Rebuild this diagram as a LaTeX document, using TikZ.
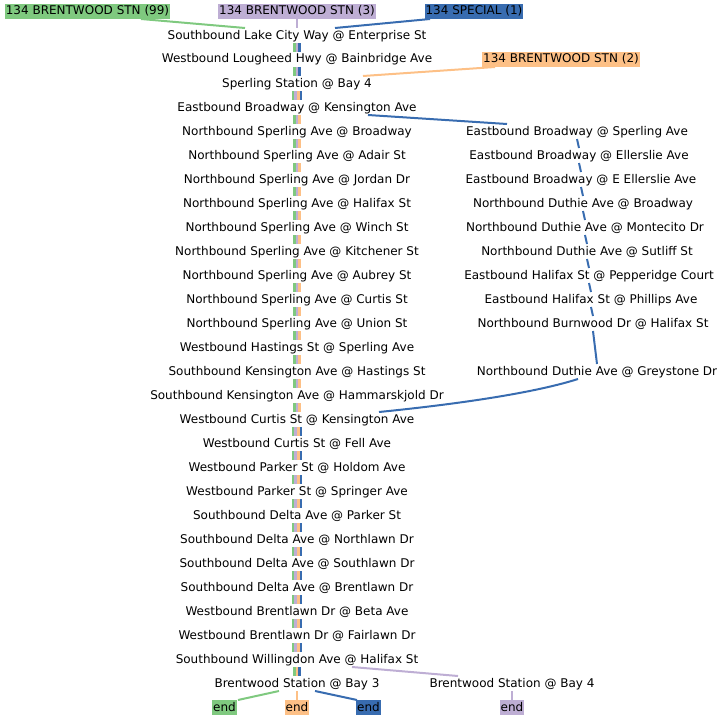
\documentclass[tikz,border=0pt]{standalone}
\usepackage{fontspec}
\setmainfont{DejaVu Sans}
\usetikzlibrary{positioning}

\definecolor{rteGreen}{HTML}{7FC97F}
\definecolor{rtePurple}{HTML}{BEAED4}
\definecolor{rteOrange}{HTML}{FDC086}
\definecolor{rteBlue}{HTML}{386CB0}

\begin{document}
\begin{tikzpicture}[
    x=1pt, y=-1pt,
    node distance=9pt,
    every node/.style={font=\fontsize{12}{14}\selectfont},
    stop/.style={inner xsep=1pt, inner ysep=1.5pt, outer sep=0pt, text height=9.5pt, text depth=2.5pt},
    tag/.style={stop, fill=#1},
    route/.style={line width=2pt},
    bar/.style={line width=2.7pt}
]
\useasboundingbox (0,0) rectangle (724,720);

% Route labels
\node[tag=rteGreen] (Hdr99) at (87.5,11.5) {134 BRENTWOOD STN (99)};
\node[tag=rtePurple] (Hdr3) at (297,11.5) {134 BRENTWOOD STN (3)};
\node[tag=rteBlue] (HdrSpecial) at (474,11.5) {134 SPECIAL (1)};
\node[tag=rteOrange] (Hdr2) at (561,59.5) {134 BRENTWOOD STN (2)};

% Main column of stops
\node[stop, below=of Hdr3] (LakeCity) {Southbound Lake City Way @ Enterprise St};
\node[stop, below=of LakeCity] (Lougheed) {Westbound Lougheed Hwy @ Bainbridge Ave};
\node[stop, below=of Lougheed] (SperlingStn) {Sperling Station @ Bay 4};
\node[stop, below=of SperlingStn] (BwyKensington) {Eastbound Broadway @ Kensington Ave};
\node[stop, below=of BwyKensington] (SperBroadway) {Northbound Sperling Ave @ Broadway};
\node[stop, below=of SperBroadway] (SperAdair) {Northbound Sperling Ave @ Adair St};
\node[stop, below=of SperAdair] (SperJordan) {Northbound Sperling Ave @ Jordan Dr};
\node[stop, below=of SperJordan] (SperHalifax) {Northbound Sperling Ave @ Halifax St};
\node[stop, below=of SperHalifax] (SperWinch) {Northbound Sperling Ave @ Winch St};
\node[stop, below=of SperWinch] (SperKitchener) {Northbound Sperling Ave @ Kitchener St};
\node[stop, below=of SperKitchener] (SperAubrey) {Northbound Sperling Ave @ Aubrey St};
\node[stop, below=of SperAubrey] (SperCurtis) {Northbound Sperling Ave @ Curtis St};
\node[stop, below=of SperCurtis] (SperUnion) {Northbound Sperling Ave @ Union St};
\node[stop, below=of SperUnion] (HastSperling) {Westbound Hastings St @ Sperling Ave};
\node[stop, below=of HastSperling] (KensHastings) {Southbound Kensington Ave @ Hastings St};
\node[stop, below=of KensHastings] (KensHammar) {Southbound Kensington Ave @ Hammarskjold Dr};
\node[stop, below=of KensHammar] (CurtisKens) {Westbound Curtis St @ Kensington Ave};
\node[stop, below=of CurtisKens] (CurtisFell) {Westbound Curtis St @ Fell Ave};
\node[stop, below=of CurtisFell] (ParkerHoldom) {Westbound Parker St @ Holdom Ave};
\node[stop, below=of ParkerHoldom] (ParkerSpringer) {Westbound Parker St @ Springer Ave};
\node[stop, below=of ParkerSpringer] (DeltaParker) {Southbound Delta Ave @ Parker St};
\node[stop, below=of DeltaParker] (DeltaNorthlawn) {Southbound Delta Ave @ Northlawn Dr};
\node[stop, below=of DeltaNorthlawn] (DeltaSouthlawn) {Southbound Delta Ave @ Southlawn Dr};
\node[stop, below=of DeltaSouthlawn] (DeltaBrentlawn) {Southbound Delta Ave @ Brentlawn Dr};
\node[stop, below=of DeltaBrentlawn] (BrentlawnBeta) {Westbound Brentlawn Dr @ Beta Ave};
\node[stop, below=of BrentlawnBeta] (BrentlawnFair) {Westbound Brentlawn Dr @ Fairlawn Dr};
\node[stop, below=of BrentlawnFair] (Willingdon) {Southbound Willingdon Ave @ Halifax St};
\node[stop, below=of Willingdon] (BrentwoodBay3) {Brentwood Station @ Bay 3};

% Detour column (134 SPECIAL)
\node[stop] (BwySperling) at (577,131.5) {Eastbound Broadway @ Sperling Ave};
\node[stop, below=of BwySperling, xshift=2pt] (BwyEllerslie) {Eastbound Broadway @ Ellerslie Ave};
\node[stop, below=of BwyEllerslie, xshift=2pt] (BwyEEllerslie) {Eastbound Broadway @ E Ellerslie Ave};
\node[stop, below=of BwyEEllerslie, xshift=2pt] (DuthieBwy) {Northbound Duthie Ave @ Broadway};
\node[stop, below=of DuthieBwy, xshift=2pt] (DuthieMontecito) {Northbound Duthie Ave @ Montecito Dr};
\node[stop, below=of DuthieMontecito, xshift=2pt] (DuthieSutliff) {Northbound Duthie Ave @ Sutliff St};
\node[stop, below=of DuthieSutliff, xshift=2pt] (HalifaxPepperidge) {Eastbound Halifax St @ Pepperidge Court};
\node[stop, below=of HalifaxPepperidge, xshift=2pt] (HalifaxPhillips) {Eastbound Halifax St @ Phillips Ave};
\node[stop, below=of HalifaxPhillips, xshift=2pt] (BurnwoodHalifax) {Northbound Burnwood Dr @ Halifax St};
\node[stop, below=of BurnwoodHalifax, xshift=4pt, yshift=-24pt] (DuthieGreystone) {Northbound Duthie Ave @ Greystone Dr};

\node[stop] (BrentwoodBay4) at (512,683.5) {Brentwood Station @ Bay 4};

% Terminals
\node[tag=rteOrange, below=of BrentwoodBay3] (EndO) {end};
\node[tag=rteGreen, below=of BrentwoodBay3, xshift=-72.5pt] (EndG) {end};
\node[tag=rteBlue, below=of BrentwoodBay3, xshift=71.5pt] (EndB) {end};
\node[tag=rtePurple, below=of BrentwoodBay4] (EndP) {end};

% Route starts
\draw[route, rteGreen] ([xshift=53.5pt]Hdr99.south) -- ([xshift=-52pt]LakeCity.north);
\draw[route, rtePurple] (Hdr3.south) -- (LakeCity.north);
\draw[route, rteBlue] ([xshift=-44pt]HdrSpecial.south) -- ([xshift=38pt]LakeCity.north);
\draw[route, rteOrange] ([xshift=-66pt]Hdr2.south) -- ([xshift=66pt]SperlingStn.north);

% Shared segments
\foreach \a/\b in {LakeCity/Lougheed, Lougheed/SperlingStn} {
  \draw[bar, rteGreen] ([xshift=-2.7pt]\a.south) -- ([xshift=-2.7pt]\b.north);
  \draw[bar, rtePurple] (\a.south) -- (\b.north);
  \draw[bar, rteBlue] ([xshift=2.7pt]\a.south) -- ([xshift=2.7pt]\b.north);
}
\foreach \a/\b in {SperBroadway/SperAdair, SperAdair/SperJordan, SperJordan/SperHalifax,
    SperHalifax/SperWinch, SperWinch/SperKitchener, SperKitchener/SperAubrey,
    SperAubrey/SperCurtis, SperCurtis/SperUnion, SperUnion/HastSperling,
    HastSperling/KensHastings, KensHastings/KensHammar, KensHammar/CurtisKens,
    BwyKensington/SperBroadway} {
  \draw[bar, rteGreen] ([xshift=-2.7pt]\a.south) -- ([xshift=-2.7pt]\b.north);
  \draw[bar, rtePurple] (\a.south) -- (\b.north);
  \draw[bar, rteOrange] ([xshift=2.7pt]\a.south) -- ([xshift=2.7pt]\b.north);
}
\foreach \a/\b in {SperlingStn/BwyKensington, CurtisKens/CurtisFell, CurtisFell/ParkerHoldom,
    ParkerHoldom/ParkerSpringer, ParkerSpringer/DeltaParker, DeltaParker/DeltaNorthlawn,
    DeltaNorthlawn/DeltaSouthlawn, DeltaSouthlawn/DeltaBrentlawn, DeltaBrentlawn/BrentlawnBeta,
    BrentlawnBeta/BrentlawnFair, BrentlawnFair/Willingdon} {
  \draw[bar, rteGreen] ([xshift=-4.05pt]\a.south) -- ([xshift=-4.05pt]\b.north);
  \draw[bar, rtePurple] ([xshift=-1.35pt]\a.south) -- ([xshift=-1.35pt]\b.north);
  \draw[bar, rteOrange] ([xshift=1.35pt]\a.south) -- ([xshift=1.35pt]\b.north);
  \draw[bar, rteBlue] ([xshift=4.05pt]\a.south) -- ([xshift=4.05pt]\b.north);
}
\draw[bar, rteGreen] ([xshift=-2.7pt]Willingdon.south) -- ([xshift=-2.7pt]BrentwoodBay3.north);
\draw[bar, rteOrange] (Willingdon.south) -- (BrentwoodBay3.north);
\draw[bar, rteBlue] ([xshift=2.7pt]Willingdon.south) -- ([xshift=2.7pt]BrentwoodBay3.north);

% 134 SPECIAL detour
\draw[route, rteBlue] ([xshift=71pt]BwyKensington.south) -- ([xshift=-70pt]BwySperling.north);
\foreach \a/\b in {BwySperling/BwyEllerslie, BwyEllerslie/BwyEEllerslie, BwyEEllerslie/DuthieBwy,
    DuthieBwy/DuthieMontecito, DuthieMontecito/DuthieSutliff, DuthieSutliff/HalifaxPepperidge,
    HalifaxPepperidge/HalifaxPhillips, HalifaxPhillips/BurnwoodHalifax, BurnwoodHalifax/DuthieGreystone}
  \draw[route, rteBlue] (\a.south) -- (\b.north);
\draw[route, rteBlue] ([xshift=-19pt]DuthieGreystone.south) .. controls +(-50,16) and +(60,-6) .. ([xshift=82pt]CurtisKens.north);

% Route ends
\draw[route, rtePurple] ([xshift=55pt]Willingdon.south) -- ([xshift=-54pt]BrentwoodBay4.north);
\draw[route, rtePurple] (BrentwoodBay4.south) -- (EndP.north);
\draw[route, rteGreen] ([xshift=-18pt]BrentwoodBay3.south) -- ([xshift=13.5pt]EndG.north);
\draw[route, rteOrange] (BrentwoodBay3.south) -- (EndO.north);
\draw[route, rteBlue] ([xshift=18pt]BrentwoodBay3.south) -- ([xshift=-11.5pt]EndB.north);

\end{tikzpicture}
\end{document}
